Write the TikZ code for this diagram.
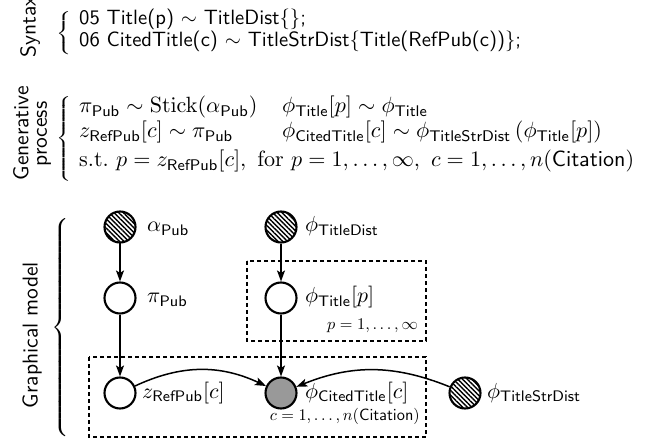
\documentclass[tikz,border=0pt]{standalone}
\usepackage{graphicx}
\usetikzlibrary{arrows.meta,patterns.meta,shapes.geometric}
\newsavebox\fitbox
\newcommand\getscale[3]{%
  \sbox\fitbox{\fontsize{10}{12}\selectfont #3}%
  \edef\fitw{\the\wd\fitbox}%
  \pgfmathsetmacro\tmpscale{#2/\fitw}%
  \global\let#1\tmpscale}
\newcommand\synline{\sffamily 06 CitedTitle(c) $\sim$ TitleStrDist\{Title(RefPub(c))\};}
\newcommand\genline{$\mathrm{s.t.}\ p = z_{\mathsf{RefPub}}[c],\ \mathrm{for}\ p = 1,\ldots,\infty,\ c = 1,\ldots,n(\mathsf{Citation})$}
\newcommand\tsdlabel{$\phi_{\mathsf{TitleStrDist}}$}
\newcommand\cplate{$c = 1,\ldots,n(\mathsf{Citation})$}
\AtBeginDocument{%
  \getscale\synS{442}{\synline}%
  \getscale\genS{555}{\genline}%
  \getscale\labS{94}{\tsdlabel}%
  \getscale\plS{150}{\cplate}%
  \getscale\rotS{146}{\sffamily Graphical model}%
}
\tikzset{
  var/.style={circle, draw, line width=2.1pt, minimum size=31pt, inner sep=0pt},
  hyper/.style={var, pattern={Lines[angle=-45,distance=3.3pt,line width=1.4pt]}},
  obs/.style={var, fill=black!40},
  lat/.style={var, fill=white},
  edge/.style={line width=1.5pt, -{Stealth[length=11pt,width=8pt,inset=2.5pt]}},
  plate/.style={draw, line width=1.1pt, dash pattern=on 4pt off 3pt},
  txt/.style={anchor=base west, inner sep=0pt},
  txe/.style={anchor=base east, inner sep=0pt},
  rot/.style={rotate=90, inner sep=0pt},
  brace/.style={inner sep=0pt}
}
\begin{document}
\begin{tikzpicture}[x=1pt,y=1pt,font=\fontsize{10}{12}\selectfont]
\useasboundingbox (0,0) rectangle (660,444);
% ---- Syntax
\node[rot] (synlab) at (30,417) {\scalebox{\rotS}{\sffamily Syntax}};
\node[brace] (synbr) at (64.5,410.5) {\resizebox*{17pt}{43pt}{$\left\{\vcenter{\hrule height 20pt depth 20pt width 0pt}\right.$}};
\node[txt] (syn1) at (79,419) {\scalebox{\synS}{\sffamily 05 Title(p) $\sim$ TitleDist\{\};}};
\node[txt] (syn2) at (79,397) {\scalebox{\synS}{\synline}};
% ---- Generative process
\node[rot] (genlab1) at (21,311) {\scalebox{\rotS}{\sffamily Generative}};
\node[rot] (genlab2) at (44,310) {\scalebox{\rotS}{\sffamily process}};
\node[brace] (genbr) at (64.5,305.5) {\resizebox*{17pt}{87pt}{$\left\{\vcenter{\hrule height 40pt depth 40pt width 0pt}\right.$}};
\node[txt] (g11) at (79,331) {\scalebox{\genS}{$\pi_{\mathsf{Pub}} \sim \mathrm{Stick}(\alpha_{\mathsf{Pub}})$}};
\node[txt] (g12) at (282,331) {\scalebox{\genS}{$\phi_{\mathsf{Title}}[p] \sim \phi_{\mathsf{Title}}$}};
\node[txt] (g21) at (79,306) {\scalebox{\genS}{$z_{\mathsf{RefPub}}[c] \sim \pi_{\mathsf{Pub}}$}};
\node[txt] (g22) at (282,306) {\scalebox{\genS}{$\phi_{\mathsf{CitedTitle}}[c] \sim \phi_{\mathsf{TitleStrDist}}\left(\phi_{\mathsf{Title}}[p]\right)$}};
\node[txt] (g3) at (79,277) {\scalebox{\genS}{\genline}};
% ---- Graphical model
\node[rot] (gmlab) at (32,109) {\scalebox{\rotS}{\sffamily Graphical model}};
\node[brace] (gmbr) at (62,116.5) {\resizebox*{20pt}{225pt}{$\left\{\vcenter{\hrule height 59pt depth 59pt width 0pt}\right.$}};
% plates
\draw[plate] (247,183) rectangle (426,103);
\draw[plate] (89,87) rectangle (426,7);
\node[txe] (pl1) at (418,114) {\scalebox{\plS}{$p = 1,\ldots,\infty$}};
\node[txe] (pl2) at (420,24) {\scalebox{\plS}{\cplate}};
% nodes
\node[hyper] (alpha) at (120,217) {};
\node[lat] (pi) at (120,146) {};
\node[lat] (z) at (120,51) {};
\node[hyper] (phiTD) at (281,217) {};
\node[lat] (phiT) at (281,146) {};
\node[obs] (phiCT) at (281,51) {};
\node[hyper] (phiTSD) at (465,51) {};
% labels
\node[txt] (alphaL) at (147,212) {\scalebox{\labS}{$\alpha_{\mathsf{Pub}}$}};
\node[txt] (piL) at (147,141) {\scalebox{\labS}{$\pi_{\mathsf{Pub}}$}};
\node[txt] (zL) at (142,46) {\scalebox{\labS}{$z_{\mathsf{RefPub}}[c]$}};
\node[txt] (phiTDL) at (305,212) {\scalebox{\labS}{$\phi_{\mathsf{TitleDist}}$}};
\node[txt] (phiTL) at (305,141) {\scalebox{\labS}{$\phi_{\mathsf{Title}}[p]$}};
\node[txt] (phiCTL) at (305,46) {\scalebox{\labS}{$\phi_{\mathsf{CitedTitle}}[c]$}};
\node[txt] (phiTSDL) at (487,46) {\scalebox{\labS}{\tsdlabel}};
% edges
\draw[edge] (alpha) -- (pi);
\draw[edge] (pi) -- (z);
\draw[edge] (phiTD) -- (phiT);
\draw[edge] (phiT) -- (phiCT);
\draw[edge] (z) to[bend left=25] (phiCT);
\draw[edge] (phiTSD) to[bend right=22] (phiCT);
\end{tikzpicture}
\end{document}
